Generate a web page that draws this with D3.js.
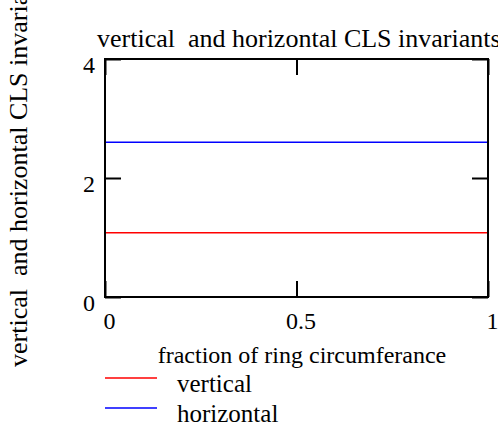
<!DOCTYPE html>
<html>
<head>
<meta charset="utf-8">
<script src="https://cdn.jsdelivr.net/npm/d3@7"></script>
<style>
  body { margin: 0; background: #fff; }
  text { font-family: "Liberation Serif", "Times New Roman", serif; fill: #000; }
</style>
</head>
<body>
<div id="chart"></div>
<script>
const fraction = [0, 1];
const verticalInv = [1.08, 1.08];
const horizontalInv = [2.6, 2.6];
const xTicks = [0, 0.5, 1];
const yTicks = [0, 2, 4];
const seriesNames = ["vertical", "horizontal"];
const seriesColors = ["#ff0000", "#0000ff"];

const width = 498;
const height = 427;
const margin = { top: 59, right: 10, bottom: 130, left: 105 };
const fontSize = "24px";
const titleSize = "26px";

const svg = d3.select("#chart")
    .append("svg")
    .attr("width", width)
    .attr("height", height);

const x = d3.scaleLinear()
    .domain([0, 1])
    .range([margin.left, width - margin.right]);

const y = d3.scaleLinear()
    .domain([0, 4])
    .range([height - margin.bottom, margin.top]);

const tickLen = 16;

// series lines
const line = d3.line()
    .x((d, i) => x(fraction[i]))
    .y(d => y(d));

[verticalInv, horizontalInv].forEach((s, i) => {
  svg.append("path")
    .datum(s)
    .attr("fill", "none")
    .attr("stroke", seriesColors[i])
    .attr("stroke-width", 1.5)
    .attr("d", line);
});

// frame
svg.append("rect")
  .attr("x", x(0))
  .attr("y", y(4))
  .attr("width", x(1) - x(0))
  .attr("height", y(0) - y(4))
  .attr("fill", "none")
  .attr("stroke", "#000")
  .attr("stroke-width", 2);

// inward ticks, all four sides
function bottomAxis(g) {
  g.attr("transform", "translate(0," + y(0) + ")")
    .call(d3.axisBottom(x).tickValues(xTicks).tickSize(-tickLen).tickPadding(15).tickFormat(d3.format("")))
    .call(g => g.select(".domain").remove());
  g.selectAll("text").attr("dx", 4);
}
function topAxis(g) {
  g.attr("transform", "translate(0," + y(4) + ")")
    .call(d3.axisTop(x).tickValues(xTicks).tickSize(-tickLen).tickFormat(""))
    .call(g => g.select(".domain").remove());
}
function leftAxis(g) {
  g.attr("transform", "translate(" + x(0) + ",0)")
    .call(d3.axisLeft(y).tickValues(yTicks).tickSize(-tickLen).tickPadding(10).tickFormat(d3.format("")))
    .call(g => g.select(".domain").remove());
  g.selectAll("text").attr("dy", "0.58em");
}
function rightAxis(g) {
  g.attr("transform", "translate(" + x(1) + ",0)")
    .call(d3.axisRight(y).tickValues(yTicks).tickSize(-tickLen).tickFormat(""))
    .call(g => g.select(".domain").remove());
}

[bottomAxis, topAxis, leftAxis, rightAxis].forEach(f => {
  const g = svg.append("g").call(f);
  g.selectAll("line").attr("stroke", "#000").attr("stroke-width", 2);
  g.selectAll("text")
    .style("font-family", '"Liberation Serif", serif')
    .style("font-size", fontSize)
    .attr("fill", "#000");
});

// titles
svg.append("text")
  .attr("x", 97)
  .attr("y", 47)
  .style("font-size", titleSize)
  .attr("xml:space", "preserve")
  .text("vertical  and horizontal CLS invariants");

svg.append("text")
  .attr("transform", "translate(27,367) rotate(-90)")
  .style("font-size", titleSize)
  .attr("xml:space", "preserve")
  .text("vertical  and horizontal CLS invariants");

svg.append("text")
  .attr("x", 302)
  .attr("y", 363)
  .attr("text-anchor", "middle")
  .style("font-size", fontSize)
  .text("fraction of ring circumferance");

// legend
const legend = svg.append("g");
seriesNames.forEach((name, i) => {
  const ly = 378 + i * 30;
  legend.append("line")
    .attr("x1", 105).attr("x2", 157)
    .attr("y1", ly).attr("y2", ly)
    .attr("stroke", seriesColors[i])
    .attr("stroke-width", 1.5);
  legend.append("text")
    .attr("x", 177)
    .attr("y", ly + 14)
    .style("font-size", "25px")
    .text(name);
});
</script>
</body>
</html>
